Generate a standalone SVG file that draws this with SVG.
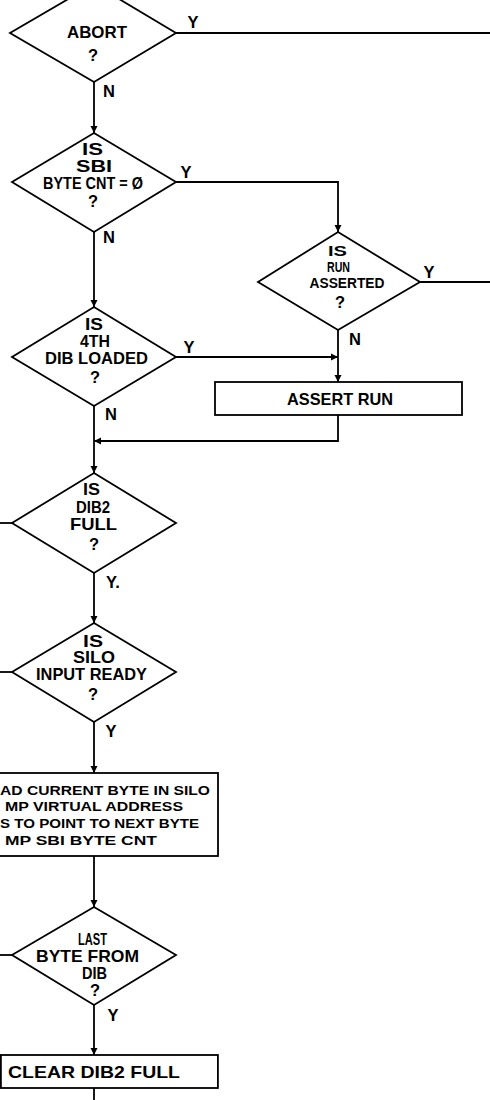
<svg xmlns="http://www.w3.org/2000/svg" width="490" height="1100" viewBox="0 0 490 1100">
<style>
.bg{fill:#fff}
.shape{fill:#fff;stroke:#000;stroke-width:1.8}
.conn{fill:none;stroke:#000;stroke-width:1.8}
.t{font-family:"Liberation Sans",Arial,sans-serif;font-weight:bold;font-size:16.5px;fill:#000;text-anchor:middle}
.m{font-size:14px}
.b{font-size:13.5px}
.s{text-anchor:start}
</style>
<defs>
<marker id="arr" viewBox="0 0 10 10" refX="10" refY="5" markerWidth="7" markerHeight="8" markerUnits="userSpaceOnUse" orient="auto">
<path d="M0,0 L10,5 L0,10 Z" fill="#000"/>
</marker>
</defs>
<rect class="bg" x="0" y="0" width="490" height="1100"/>
<g id="connectors">
<path class="conn" d="M94,82 V133" marker-end="url(#arr)"/>
<path class="conn" d="M176,33 H490"/>
<path class="conn" d="M176,182 H338 V232" marker-end="url(#arr)"/>
<path class="conn" d="M94,232 V307" marker-end="url(#arr)"/>
<path class="conn" d="M420,282 H490"/>
<path class="conn" d="M338,330 V382" marker-end="url(#arr)"/>
<path class="conn" d="M176,357 H338" marker-end="url(#arr)"/>
<path class="conn" d="M94,406 V473" marker-end="url(#arr)"/>
<path class="conn" d="M338,415 V441 H94" marker-end="url(#arr)"/>
<path class="conn" d="M94,573 V623" marker-end="url(#arr)"/>
<path class="conn" d="M12,523 H0"/>
<path class="conn" d="M94,722 V773" marker-end="url(#arr)"/>
<path class="conn" d="M12,672 H0"/>
<path class="conn" d="M94,856 V907" marker-end="url(#arr)"/>
<path class="conn" d="M12,955 H0"/>
<path class="conn" d="M94,1005 V1055" marker-end="url(#arr)"/>
<path class="conn" d="M94,1088 V1100"/>
<text class="t" x="109" y="97">N</text>
<text class="t" x="193" y="28">Y</text>
<text class="t" x="186" y="178">Y</text>
<text class="t" x="109" y="243">N</text>
<text class="t" x="429" y="278">Y</text>
<text class="t" x="355" y="345">N</text>
<text class="t" x="189" y="353">Y</text>
<text class="t" x="111" y="420">N</text>
<text class="t" x="113" y="588">Y.</text>
<text class="t" x="111" y="737">Y</text>
<text class="t" x="113" y="1021">Y</text>
</g>
<g id="n-abort">
<polygon class="shape" points="94,-16 176,33 94,82 10,33"/>
<text class="t" x="97" y="38" textLength="60" lengthAdjust="spacingAndGlyphs">ABORT</text>
<text class="t" x="93" y="61">?</text>
</g>
<g id="n-bytecnt">
<polygon class="shape" points="94,133 176,182 94,232 12,182"/>
<text class="t" x="92.5" y="155" textLength="21" lengthAdjust="spacingAndGlyphs">IS</text>
<text class="t" x="94" y="172" textLength="36" lengthAdjust="spacingAndGlyphs">SBI</text>
<text class="t" x="93" y="189" textLength="100" lengthAdjust="spacingAndGlyphs">BYTE CNT = Ø</text>
<text class="t" x="93" y="207">?</text>
</g>
<g id="n-run">
<polygon class="shape" points="338,232 420,282 338,330 258,282"/>
<text class="t m" x="337.5" y="256" textLength="19" lengthAdjust="spacingAndGlyphs">IS</text>
<text class="t m" x="338.5" y="272" textLength="23" lengthAdjust="spacingAndGlyphs">RUN</text>
<text class="t m" x="347" y="288" textLength="75" lengthAdjust="spacingAndGlyphs">ASSERTED</text>
<text class="t" x="340" y="308">?</text>
</g>
<g id="n-assert">
<rect class="shape" x="215" y="382" width="247" height="33"/>
<text class="t" x="340" y="405" textLength="106" lengthAdjust="spacingAndGlyphs">ASSERT RUN</text>
</g>
<g id="n-4thdib">
<polygon class="shape" points="94,307 176,357 94,406 12,357"/>
<text class="t" x="94" y="330" textLength="18" lengthAdjust="spacingAndGlyphs">IS</text>
<text class="t" x="95" y="347" textLength="30" lengthAdjust="spacingAndGlyphs">4TH</text>
<text class="t" x="96.5" y="364" textLength="103" lengthAdjust="spacingAndGlyphs">DIB LOADED</text>
<text class="t" x="95" y="383">?</text>
</g>
<g id="n-dib2full">
<polygon class="shape" points="94,473 176,523 94,573 12,523"/>
<text class="t" x="91.5" y="495" textLength="17" lengthAdjust="spacingAndGlyphs">IS</text>
<text class="t" x="93" y="513" textLength="34" lengthAdjust="spacingAndGlyphs">DIB2</text>
<text class="t" x="93.5" y="530" textLength="47" lengthAdjust="spacingAndGlyphs">FULL</text>
<text class="t" x="94" y="550">?</text>
</g>
<g id="n-silo">
<polygon class="shape" points="94,623 176,672 94,722 12,672"/>
<text class="t" x="93" y="647" textLength="20" lengthAdjust="spacingAndGlyphs">IS</text>
<text class="t" x="94" y="663" textLength="42" lengthAdjust="spacingAndGlyphs">SILO</text>
<text class="t" x="91.5" y="680" textLength="111" lengthAdjust="spacingAndGlyphs">INPUT READY</text>
<text class="t" x="93" y="700">?</text>
</g>
<g id="n-read">
<rect class="shape" x="-10" y="773" width="228" height="83"/>
<text class="t b s" x="0" y="795" textLength="210" lengthAdjust="spacingAndGlyphs">AD CURRENT BYTE IN SILO</text>
<text class="t b s" x="5" y="811" textLength="178" lengthAdjust="spacingAndGlyphs">MP VIRTUAL ADDRESS</text>
<text class="t b s" x="0" y="828" textLength="199" lengthAdjust="spacingAndGlyphs">S TO POINT TO NEXT BYTE</text>
<text class="t b s" x="5" y="845" textLength="152" lengthAdjust="spacingAndGlyphs">MP SBI BYTE CNT</text>
</g>
<g id="n-lastbyte">
<polygon class="shape" points="94,907 176,955 94,1005 12,955"/>
<text class="t" x="92.5" y="945" textLength="29" lengthAdjust="spacingAndGlyphs">LAST</text>
<text class="t" x="87.5" y="962" textLength="103" lengthAdjust="spacingAndGlyphs">BYTE FROM</text>
<text class="t" x="94.5" y="979" textLength="25" lengthAdjust="spacingAndGlyphs">DIB</text>
<text class="t" x="95" y="996">?</text>
</g>
<g id="n-clear">
<rect class="shape" x="0.9" y="1055" width="217" height="33"/>
<text class="t s" x="8" y="1078" textLength="172" lengthAdjust="spacingAndGlyphs">CLEAR DIB2 FULL</text>
</g>
</svg>
